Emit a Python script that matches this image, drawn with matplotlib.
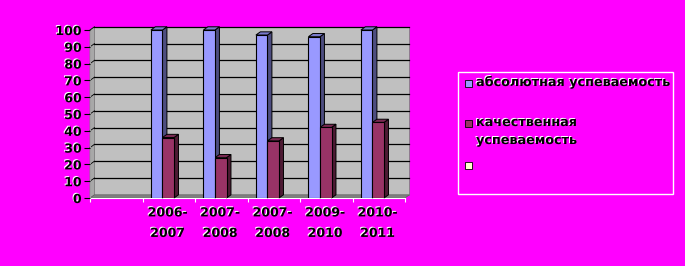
"""Excel-style pseudo-3D column chart: успеваемость по годам."""

import matplotlib

matplotlib.use("Agg")
import matplotlib.patheffects as pe
import matplotlib.pyplot as plt
from matplotlib.patches import Polygon, Rectangle

years = ["", "2006-\n2007", "2007-\n2008", "2007-\n2008", "2009-\n2010", "2010-\n2011"]
absolute = [None, 100, 100, 97, 96, 100]
quality = [None, 36, 24, 34, 42, 45]
series_names = ["абсолютная успеваемость", "качественная\nуспеваемость", ""]

BG = "#FF00FF"
WALL = "#C0C0C0"
BLUE, BLUE_SIDE, BLUE_TOP = "#9999FF", "#4D4D80", "#7A7ACC"
RED, RED_SIDE, RED_TOP = "#993366", "#4D1A33", "#7A2952"
shadow = [pe.SimplePatchShadow(offset=(-0.7, 0.7), shadow_rgbFace="white", alpha=1), pe.Normal()]

fig = plt.figure(figsize=(6.85, 2.66), dpi=100, facecolor=BG)
W, H = 685, 266
ax = fig.add_axes([90 / W, (H - 198) / H, 315 / W, 168 / H])
ax.set_xlim(0, 6)
ax.set_ylim(0, 100)
ax.set_facecolor("none")
for s in ax.spines.values():
    s.set_visible(False)

# depth offsets in data units (about 4.5 px right, 3 px up)
dx, dy = 0.085, 1.9

# walls, floor and gridlines
ax.add_patch(Polygon([(0, 0), (dx, dy), (dx, 100 + dy), (0, 100)], closed=True,
                     facecolor="#A8A8A8", edgecolor="#808080", lw=0.6, clip_on=False, zorder=0))
ax.add_patch(Rectangle((dx, dy), 6 - dx + 0.07, 100, facecolor=WALL, edgecolor="#808080",
                       lw=0.6, clip_on=False, zorder=0))
ax.add_patch(Polygon([(0, 0), (6, 0), (6 + dx, dy), (dx, dy)], closed=True,
                     facecolor="#808080", edgecolor="#606060", lw=0.5, clip_on=False, zorder=1))
for v in range(10, 101, 10):
    ax.plot([dx, 6 + 0.07], [v + dy, v + dy], color="black", lw=0.9, zorder=1, clip_on=False)
    ax.plot([0, dx], [v, v + dy], color="black", lw=0.6, zorder=1, clip_on=False)
ax.plot([0, 0], [0, 100], color="#A0A0A0", lw=0.8, zorder=1, clip_on=False)
ax.plot([0, 6], [0, 0], color="white", lw=0.8, zorder=1, clip_on=False)


def draw_bar(x0, w, val, face, side, top):
    ax.bar([x0], [val], width=w, align="edge", color=face, edgecolor="black", lw=0.8, zorder=3)
    ax.add_patch(Polygon([(x0 + w, 0), (x0 + w + dx, dy), (x0 + w + dx, val + dy), (x0 + w, val)],
                         closed=True, facecolor=side, edgecolor="black", lw=0.7, zorder=2,
                         clip_on=False))
    ax.add_patch(Polygon([(x0, val), (x0 + dx, val + dy), (x0 + w + dx, val + dy), (x0 + w, val)],
                         closed=True, facecolor=top, edgecolor="black", lw=0.7, zorder=2,
                         clip_on=False))


bw = 0.22
for i in range(len(years)):
    if absolute[i] is not None:
        draw_bar(i + 0.16, bw, absolute[i], BLUE, BLUE_SIDE, BLUE_TOP)
    if quality[i] is not None:
        draw_bar(i + 0.16 + bw, bw, quality[i], RED, RED_SIDE, RED_TOP)

ax.set_yticks(range(0, 101, 10))
ax.set_yticklabels([str(v) for v in range(0, 101, 10)], fontsize=9, fontweight="bold",
                   family="DejaVu Sans")
ax.tick_params(axis="y", length=4, width=0.8, color="black", pad=2)
ax.set_xticks(range(0, 7))
ax.set_xticklabels([])
ax.tick_params(axis="x", length=3, width=0.8, color="white", direction="out")
for lbl in ax.get_yticklabels():
    lbl.set_path_effects(shadow)
for i, name in enumerate(years):
    ax.text(i + 0.48, -5, name, ha="center", va="top", fontsize=9, fontweight="bold",
            linespacing=1.75, path_effects=shadow, clip_on=False)

# legend
fig.patches.append(Rectangle((458 / W, (H - 194) / H), 215 / W, 122 / H, transform=fig.transFigure,
                             facecolor="none", edgecolor="white", lw=1.0))
legend_rows = [(83, BLUE), (123, RED), (165, "#FFFFCC")]
for (ypx, color), name in zip(legend_rows, series_names):
    fig.patches.append(Rectangle((465 / W, (H - ypx - 4) / H), 7 / W, 7 / H,
                                 transform=fig.transFigure, facecolor=color,
                                 edgecolor="black", lw=0.6))
    fig.text(476 / W, (H - ypx + 7) / H, name, ha="left", va="top", fontsize=9.2,
             fontweight="bold", linespacing=1.5, path_effects=shadow)

fig.savefig("out.png", dpi=100, facecolor=BG)
